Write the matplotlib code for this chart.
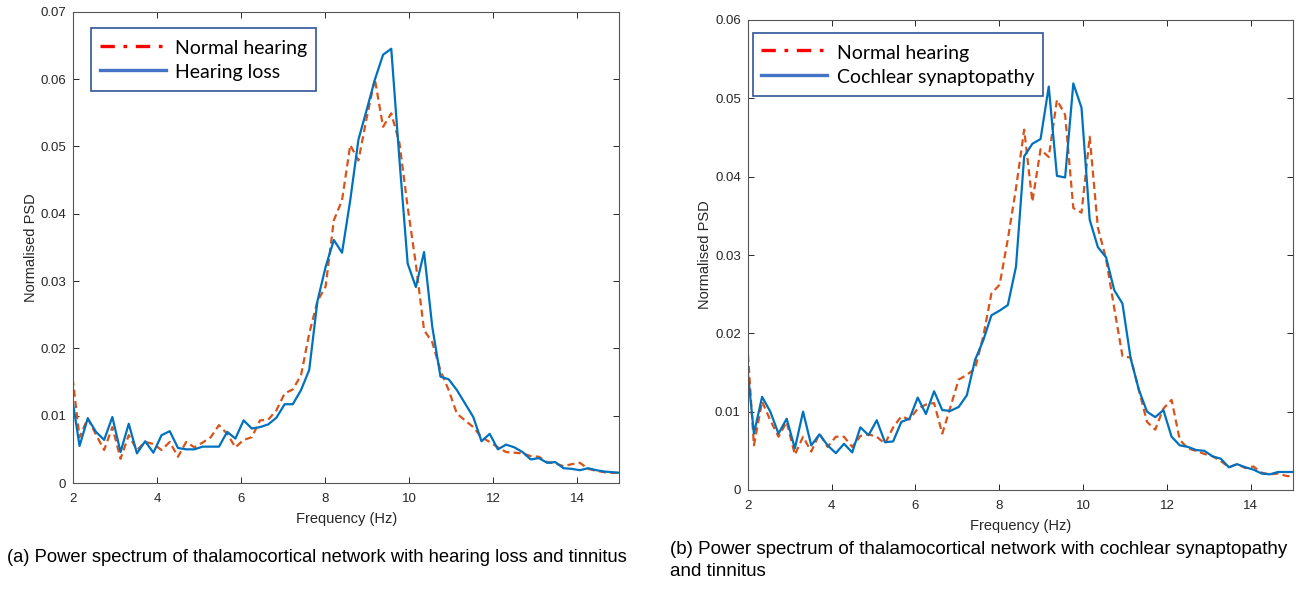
import numpy as np
import matplotlib
matplotlib.use("Agg")
import matplotlib.pyplot as plt
from matplotlib.lines import Line2D

# FFT bins 10..77 at 100/512 Hz resolution
freq_res = 100 / 512
freq = np.arange(10, 78) * freq_res

# (a) hearing loss vs normal hearing
hl_normal = [0.0172, 0.0068, 0.0096, 0.0072, 0.0049, 0.0083, 0.0036, 0.0071, 0.0049, 0.0061,
             0.0058, 0.0049, 0.0061, 0.0039, 0.0061, 0.0053, 0.0060, 0.0068, 0.0086, 0.0073,
             0.0053, 0.0064, 0.0068, 0.0093, 0.0094, 0.0108, 0.0133, 0.0139, 0.0160, 0.0222,
             0.0270, 0.0292, 0.0390, 0.0420, 0.0502, 0.0479, 0.0542, 0.0600, 0.0529, 0.0549,
             0.0505, 0.0410, 0.0325, 0.0227, 0.0209, 0.0167, 0.0138, 0.0103, 0.0093, 0.0083,
             0.0068, 0.0061, 0.0053, 0.0046, 0.0045, 0.0044, 0.0040, 0.0039, 0.0031, 0.0029,
             0.0025, 0.0028, 0.0030, 0.0021, 0.0018, 0.0016, 0.0015, 0.0015]
hl_loss = [0.0135, 0.0055, 0.0096, 0.0076, 0.0064, 0.0098, 0.0046, 0.0088, 0.0044, 0.0062,
           0.0045, 0.0071, 0.0077, 0.0052, 0.0050, 0.0050, 0.0054, 0.0054, 0.0054, 0.0076,
           0.0066, 0.0093, 0.0081, 0.0083, 0.0087, 0.0097, 0.0117, 0.0117, 0.0138, 0.0168,
           0.0270, 0.0321, 0.0361, 0.0342, 0.0420, 0.0510, 0.0554, 0.0599, 0.0636, 0.0645,
           0.0480, 0.0326, 0.0291, 0.0343, 0.0232, 0.0158, 0.0154, 0.0138, 0.0118, 0.0098,
           0.0062, 0.0073, 0.0050, 0.0057, 0.0053, 0.0046, 0.0035, 0.0037, 0.0030, 0.0031,
           0.0022, 0.0021, 0.0019, 0.0022, 0.0019, 0.0017, 0.0016, 0.0015]

# (b) cochlear synaptopathy vs normal hearing
cs_normal = [0.0216, 0.0057, 0.0113, 0.0089, 0.0068, 0.0087, 0.0045, 0.0068, 0.0049, 0.0072,
             0.0055, 0.0068, 0.0068, 0.0055, 0.0069, 0.0071, 0.0068, 0.0059, 0.0080, 0.0094,
             0.0090, 0.0104, 0.0109, 0.0111, 0.0072, 0.0106, 0.0141, 0.0147, 0.0155, 0.0196,
             0.0251, 0.0262, 0.0320, 0.0385, 0.0460, 0.0368, 0.0435, 0.0425, 0.0498, 0.0479,
             0.0360, 0.0354, 0.0451, 0.0335, 0.0295, 0.0232, 0.0171, 0.0169, 0.0128, 0.0087,
             0.0077, 0.0104, 0.0115, 0.0064, 0.0053, 0.0050, 0.0046, 0.0043, 0.0037, 0.0029,
             0.0033, 0.0028, 0.0030, 0.0022, 0.0020, 0.0021, 0.0018, 0.0017]
cs_synap = [0.0177, 0.0072, 0.0119, 0.0100, 0.0072, 0.0091, 0.0053, 0.0100, 0.0057, 0.0071,
            0.0057, 0.0047, 0.0059, 0.0048, 0.0080, 0.0070, 0.0089, 0.0061, 0.0062, 0.0087,
            0.0091, 0.0118, 0.0097, 0.0126, 0.0102, 0.0101, 0.0106, 0.0121, 0.0166, 0.0191,
            0.0223, 0.0229, 0.0236, 0.0285, 0.0426, 0.0442, 0.0448, 0.0515, 0.0401, 0.0399,
            0.0519, 0.0488, 0.0345, 0.0310, 0.0297, 0.0255, 0.0238, 0.0168, 0.0128, 0.0100,
            0.0093, 0.0102, 0.0068, 0.0057, 0.0055, 0.0051, 0.0050, 0.0043, 0.0040, 0.0029,
            0.0033, 0.0029, 0.0026, 0.0021, 0.0020, 0.0023, 0.0023, 0.0023]

x_ticks = [2, 4, 6, 8, 10, 12, 14]
y_ticks_a = [0, 0.01, 0.02, 0.03, 0.04, 0.05, 0.06, 0.07]
y_ticks_b = [0, 0.01, 0.02, 0.03, 0.04, 0.05, 0.06]
caption_a = "(a) Power spectrum of thalamocortical network with hearing loss and tinnitus"
caption_b = ["(b) Power spectrum of thalamocortical network with cochlear synaptopathy",
             "and tinnitus"]
legend_a = ["Normal hearing", "Hearing loss"]
legend_b = ["Normal hearing", "Cochlear synaptopathy"]

plt.rcParams['font.family'] = ['Liberation Sans', 'DejaVu Sans']
BLUE = '#0072BD'
RED = '#D95319'
AX = '#262626'

W, H = 1296, 591
fig = plt.figure(figsize=(W / 100, H / 100), dpi=100)


def px_axes(x0, x1, ytop, ybot):
    return fig.add_axes([x0 / W, 1 - ybot / H, (x1 - x0) / W, (ybot - ytop) / H])


def style(ax, yticks, ylim):
    ax.set_xlim(2, 15)
    ax.set_ylim(0, ylim)
    ax.set_xticks(x_ticks)
    ax.set_xticklabels([str(t) for t in x_ticks])
    ax.set_yticks(yticks)
    ax.set_yticklabels(['0'] + ['%g' % t for t in yticks[1:]])
    ax.tick_params(direction='in', length=4.5, width=0.7, colors=AX,
                   labelsize=9.5, top=True, right=True)
    ax.tick_params(axis='x', pad=7)
    ax.tick_params(axis='y', pad=5)
    for s in ax.spines.values():
        s.set_color('#555555')
        s.set_linewidth(0.8)
    ax.set_xlabel('Frequency (Hz)', fontsize=10.5, color=AX, labelpad=5)
    ax.set_ylabel('Normalised PSD', fontsize=10.5, color=AX, labelpad=2)


def add_legend(ax, labels, anchor):
    handles = [Line2D([], [], color='#FF0000', lw=2.4, dashes=(4.3, 2.6, 1.1, 2.6)),
               Line2D([], [], color='#4472C4', lw=2.4)]
    leg = ax.legend(handles, labels, loc='upper left', bbox_to_anchor=anchor,
                    borderaxespad=0, fancybox=False, framealpha=1,
                    edgecolor='#2F5597', handlelength=3.4, handletextpad=0.5,
                    handleheight=1.3, borderpad=0.45, labelspacing=0.16,
                    prop={'family': 'Lato', 'size': 14})
    leg.get_frame().set_linewidth(1.2)


ax1 = px_axes(73.3, 619.3, 11.7, 483)
ax1.plot(freq, hl_normal, color=RED, lw=1.6, dashes=(3.2, 1.9))
ax1.plot(freq, hl_loss, color=BLUE, lw=1.6)
style(ax1, y_ticks_a, 0.07)
add_legend(ax1, legend_a, (0.032, 0.965))

ax2 = px_axes(747.7, 1292.8, 20, 490)
ax2.plot(freq, cs_normal, color=RED, lw=1.6, dashes=(3.2, 1.9))
ax2.plot(freq, cs_synap, color=BLUE, lw=1.6)
style(ax2, y_ticks_b, 0.06)
add_legend(ax2, legend_b, (0.009, 0.972))

fig.text(7 / W, 1 - 557 / H, caption_a, fontsize=13.2, va='center', ha='left')
fig.text(670 / W, 1 - 550 / H, caption_b[0], fontsize=13.5, va='center', ha='left')
fig.text(670 / W, 1 - 572 / H, caption_b[1], fontsize=13.5, va='center', ha='left')

fig.savefig('out.png', dpi=100)
